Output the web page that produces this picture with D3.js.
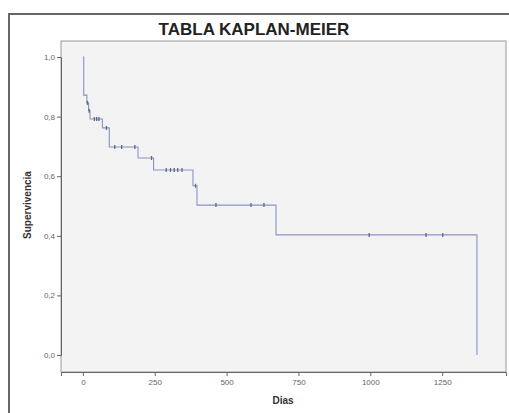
<!DOCTYPE html>
<html>
<head>
<meta charset="utf-8">
<script src="https://cdn.jsdelivr.net/npm/d3@7"></script>
<style>
  body { margin: 0; background: #fff; }
  .tick text { font-family: 'Liberation Sans', Arial, sans-serif; font-size: 8px; fill: #666; }
</style>
</head>
<body>
<div id="chart"></div>
<script>
// Kaplan-Meier steps
const stepDays = [0, 3, 14, 20, 25, 68, 92, 192, 246, 383, 397, 672, 1371];
const stepSurv = [1.0, 0.872, 0.846, 0.82, 0.792, 0.762, 0.698, 0.661, 0.621, 0.568, 0.503, 0.403, 0.0];
// censored observations (days)
const censorDays = [16, 22, 40, 48, 56, 82, 111, 135, 181, 239, 290, 305, 318, 330, 345, 392, 463, 585, 630, 996, 1194, 1252];
const xTicks = [0, 250, 500, 750, 1000, 1250];
const yTicks = [0, 0.2, 0.4, 0.6, 0.8, 1.0];

const W = 509, H = 413;
const plot = { left: 61, top: 41, right: 506, bottom: 372 };

const svg = d3.select('#chart')
  .append('svg')
  .attr('width', W)
  .attr('height', H);

// outer frame
svg.append('rect')
  .attr('x', 9)
  .attr('y', 14)
  .attr('width', W + 10)
  .attr('height', H + 10)
  .attr('fill', '#fff')
  .attr('stroke', '#666')
  .attr('stroke-width', 2);

const xScale = d3.scaleLinear()
  .domain([-76, 1472])
  .range([plot.left, plot.right]);

const yScale = d3.scaleLinear()
  .domain([0, 1])
  .range([355, 57]);

// plot background
svg.append('rect')
  .attr('x', plot.left)
  .attr('y', plot.top)
  .attr('width', plot.right - plot.left)
  .attr('height', plot.bottom - plot.top)
  .attr('fill', '#f3f3f3')
  .attr('stroke', '#999')
  .attr('stroke-width', 1);

const xAxis = d3.axisBottom(xScale).tickValues(xTicks).tickSize(4).tickPadding(3).tickFormat(d3.format('d'));
const yAxis = d3.axisLeft(yScale).tickValues(yTicks).tickSize(4).tickPadding(2)
  .tickFormat(d => d3.format('.1f')(d).replace('.', ','));

svg.append('g')
  .attr('transform', `translate(0, ${plot.bottom})`)
  .call(xAxis)
  .call(g => g.select('.domain').attr('stroke', '#666'))
  .selectAll('line').attr('stroke', '#666');

svg.append('g')
  .attr('transform', `translate(${plot.left}, 0)`)
  .call(yAxis)
  .call(g => g.select('.domain').attr('stroke', '#666'))
  .selectAll('line').attr('stroke', '#666');

// survival step line
const pts = stepDays.map((d, i) => ({ t: d, s: stepSurv[i] }));
const line = d3.line()
  .x(d => xScale(d.t))
  .y(d => yScale(d.s))
  .curve(d3.curveStepAfter);

svg.append('path')
  .attr('d', line(pts))
  .attr('fill', 'none')
  .attr('stroke', '#8a93c4')
  .attr('stroke-width', 1.1);

// censor marks
function survAt(t) {
  let s = stepSurv[0];
  stepDays.forEach((d, i) => { if (d <= t) s = stepSurv[i]; });
  return s;
}

svg.selectAll('.censor')
  .data(censorDays)
  .enter()
  .append('line')
  .attr('class', 'censor')
  .attr('x1', d => xScale(d))
  .attr('x2', d => xScale(d))
  .attr('y1', d => yScale(survAt(d)) - 2)
  .attr('y2', d => yScale(survAt(d)) + 2)
  .attr('stroke', '#5e6690')
  .attr('stroke-width', 1.3);

// title
svg.append('text')
  .attr('x', 254)
  .attr('y', 35)
  .attr('text-anchor', 'middle')
  .style('font-family', "'Liberation Sans', Arial, sans-serif")
  .style('font-weight', 'bold')
  .style('font-size', '17px')
  .style('fill', '#222')
  .text('TABLA KAPLAN-MEIER');

// axis labels
svg.append('text')
  .attr('x', 283)
  .attr('y', 404)
  .attr('text-anchor', 'middle')
  .style('font-family', "'Liberation Sans', Arial, sans-serif")
  .style('font-weight', 'bold')
  .style('font-size', '10px')
  .style('fill', '#333')
  .text('Dias');

svg.append('text')
  .attr('transform', 'rotate(-90)')
  .attr('x', -205)
  .attr('y', 31)
  .attr('text-anchor', 'middle')
  .style('font-family', "'Liberation Sans', Arial, sans-serif")
  .style('font-weight', 'bold')
  .style('font-size', '10px')
  .style('fill', '#333')
  .text('Supervivencia');
</script>
</body>
</html>
